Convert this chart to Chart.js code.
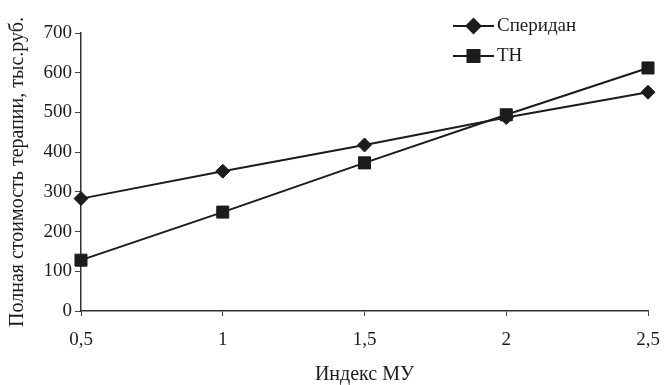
<!DOCTYPE html>
<html>
<head>
<meta charset="utf-8">
<script src="https://cdn.jsdelivr.net/npm/chart.js@4"></script>
<style>
  html, body { margin: 0; padding: 0; background: #fff; }
  #wrap { width: 665px; height: 385px; }
</style>
</head>
<body>
<div id="wrap"><canvas id="lineGraph" width="665" height="385"></canvas></div>
<script>
// DATA
const muIndex = ['0,5', '1', '1,5', '2', '2,5'];
const speridan = [283, 352, 418, 487, 551];
const tn = [128, 249, 373, 494, 612];
const yTicks = [0, 100, 200, 300, 400, 500, 600, 700];

const ink = '#1c1c1c';
const serif = '"Liberation Serif", "DejaVu Serif", serif';

// legend drawn by hand: line with marker in middle, like the original
const lineLegend = {
  id: 'lineLegend',
  afterDraw(chart) {
    const ctx = chart.ctx;
    const items = chart.data.datasets;
    ctx.save();
    items.forEach((ds, i) => {
      const y = 26 + i * 30;
      const x0 = 453, x1 = 494;
      ctx.strokeStyle = ink;
      ctx.lineWidth = 2;
      ctx.beginPath();
      ctx.moveTo(x0, y);
      ctx.lineTo(x1, y);
      ctx.stroke();
      ctx.fillStyle = ink;
      Chart.helpers.drawPoint(ctx, {
        pointStyle: ds.pointStyle,
        radius: ds.pointRadius,
        borderWidth: 1
      }, (x0 + x1) / 2, y);
      ctx.fillStyle = ink;
      ctx.font = '19px ' + serif;
      ctx.textBaseline = 'middle';
      ctx.textAlign = 'left';
      ctx.fillText(ds.label, x1 + 3, y);
    });
    ctx.restore();
  }
};

const ctx1 = document.getElementById('lineGraph').getContext('2d');
const myChart1 = new Chart(ctx1, {
  type: 'line',
  data: {
    labels: muIndex,
    datasets: [{
      label: 'Сперидан',
      data: speridan,
      borderColor: ink,
      backgroundColor: ink,
      borderWidth: 2,
      pointStyle: 'rectRot',
      pointRadius: 7,
      pointBorderWidth: 1,
      tension: 0
    }, {
      label: 'ТН',
      data: tn,
      borderColor: ink,
      backgroundColor: ink,
      borderWidth: 2,
      pointStyle: 'rect',
      pointRadius: 8.5,
      pointBorderWidth: 1,
      tension: 0
    }]
  },
  options: {
    responsive: false,
    animation: false,
    layout: { padding: { top: 33, right: 17, left: 0, bottom: 0 } },
    plugins: {
      legend: { display: false },
      tooltip: { enabled: false }
    },
    scales: {
      x: {
        type: 'category',
        offset: false,
        grid: { display: true, drawOnChartArea: false, drawTicks: true, tickLength: 5, color: '#444' },
        border: { color: '#333', width: 1.5 },
        ticks: { color: ink, font: { family: serif, size: 19 }, padding: 13, maxRotation: 0 },
        title: { display: true, text: 'Индекс МУ', color: ink, font: { family: serif, size: 20, lineHeight: 1 }, padding: { top: 2, bottom: 0 } },
        afterFit(scale) {
          scale.height = 74;
          scale.paddingLeft = 0;
          scale.paddingRight = 0;
        }
      },
      y: {
        min: 0,
        max: 700,
        afterBuildTicks(scale) { scale.ticks = yTicks.map(v => ({ value: v })); },
        grid: { display: true, drawOnChartArea: false, drawTicks: true, tickLength: 6, color: '#444' },
        border: { color: '#333', width: 1.5 },
        ticks: { color: ink, font: { family: serif, size: 19 }, padding: 3 },
        title: { display: true, text: 'Полная стоимость терапии, тыс.руб.', color: ink, font: { family: serif, size: 20, lineHeight: 1 }, padding: { top: 8, bottom: 4 } },
        afterFit(scale) {
          scale.width = 81;
          scale.paddingTop = 0;
          scale.paddingBottom = 0;
        }
      }
    }
  },
  plugins: [lineLegend]
});
</script>
</body>
</html>
